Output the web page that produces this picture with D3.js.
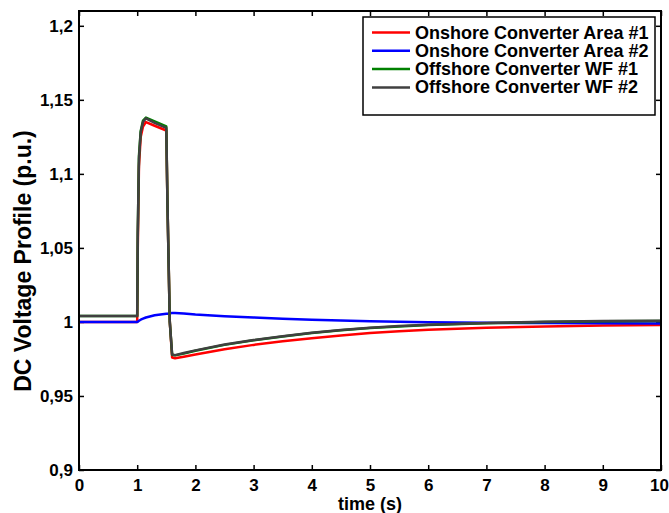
<!DOCTYPE html>
<html>
<head>
<meta charset="utf-8">
<script src="https://cdn.jsdelivr.net/npm/d3@7"></script>
<style>
  body { margin: 0; background: #fff; }
  text { font-family: "Liberation Sans", Arial, sans-serif; font-weight: bold; }
</style>
</head>
<body>
<svg id="chart" width="669" height="513"></svg>
<script>
  // time samples (s)
  var time = [0, 1, 1.01, 1.03, 1.06, 1.1, 1.15, 1.3, 1.5, 1.52, 1.56, 1.6, 1.65, 1.8, 2, 2.5, 3, 3.5, 4, 4.5, 5, 5.5, 6, 7, 8, 9, 10];

  var onshore1 = [1.0, 1.0, 1.05, 1.105, 1.125, 1.132, 1.135, 1.1325, 1.1293, 1.08, 1.0, 0.976, 0.9755, 0.9765, 0.978, 0.9815, 0.9845, 0.987, 0.989, 0.9908, 0.9925, 0.9937, 0.9947, 0.996, 0.997, 0.9976, 0.998];
  var onshore2 = [1.0, 1.0, 1.0002, 1.0008, 1.0015, 1.0022, 1.003, 1.0045, 1.0055, 1.0056, 1.0058, 1.006, 1.006, 1.0057, 1.005, 1.0038, 1.003, 1.0022, 1.0015, 1.001, 1.0005, 1.0001, 0.9998, 0.9994, 0.9992, 0.9991, 0.999];
  var offshore1 = [1.004, 1.004, 1.06, 1.112, 1.129, 1.136, 1.138, 1.1355, 1.132, 1.08, 1.0, 0.9778, 0.9774, 0.9786, 0.9805, 0.9845, 0.9876, 0.9902, 0.9925, 0.9944, 0.9959, 0.997, 0.9979, 0.9991, 0.9999, 1.0004, 1.0006];
  var offshore2 = [1.004, 1.004, 1.06, 1.11, 1.128, 1.135, 1.1375, 1.1345, 1.131, 1.08, 1.0, 0.978, 0.9776, 0.979, 0.9808, 0.9848, 0.9878, 0.9904, 0.9927, 0.9946, 0.9961, 0.9972, 0.9981, 0.9993, 1.0001, 1.0006, 1.0008];

  var seriesNames = ["Onshore Converter Area #1", "Onshore Converter Area #2", "Offshore Converter WF #1", "Offshore Converter WF #2"];
  var seriesColors = ["#ff0000", "#0000ff", "#008000", "#404040"];
  var seriesValues = [onshore1, onshore2, offshore1, offshore2];

  var xTicks = [0, 1, 2, 3, 4, 5, 6, 7, 8, 9, 10];
  var yTicks = [0.9, 0.95, 1, 1.05, 1.1, 1.15, 1.2];
  var yTickLabels = ["0,9", "0,95", "1", "1,05", "1,1", "1,15", "1,2"];

  var plotLeft = 79, plotRight = 661, plotTop = 11, plotBottom = 470;

  var svg = d3.select("#chart");

  var x = d3.scaleLinear().domain([0, 10]).range([plotLeft, plotRight]);
  var y = d3.scaleLinear().domain([0.9, 1.21]).range([plotBottom, plotTop]);

  // axes, ticks pointing inward (matlab box style)
  var xAxis = svg.append("g")
    .attr("transform", "translate(0," + plotBottom + ")")
    .call(d3.axisBottom(x).tickValues(xTicks).tickFormat(d3.format("d")).tickSizeInner(-5).tickSizeOuter(0).tickPadding(9));
  svg.append("g")
    .attr("transform", "translate(0," + plotTop + ")")
    .call(d3.axisTop(x).tickValues(xTicks).tickFormat("").tickSizeInner(-5).tickSizeOuter(0));
  svg.append("g")
    .attr("transform", "translate(" + plotLeft + ",0)")
    .call(d3.axisLeft(y).tickValues(yTicks).tickFormat(function(d, i) { return yTickLabels[i]; }).tickSizeInner(-5).tickSizeOuter(0).tickPadding(6));
  svg.append("g")
    .attr("transform", "translate(" + plotRight + ",0)")
    .call(d3.axisRight(y).tickValues(yTicks).tickFormat("").tickSizeInner(-5).tickSizeOuter(0));

  svg.selectAll(".domain").remove();
  svg.selectAll(".tick line").attr("stroke", "#000").attr("stroke-width", 1.5);
  svg.selectAll(".tick text")
    .attr("fill", "#000")
    .style("font-size", "17px")
    .style("font-family", "'Liberation Sans', Arial, sans-serif")
    .style("font-weight", "bold");
  // keep the last label inside the window
  xAxis.selectAll(".tick:last-of-type text").attr("dx", -2);

  // lines
  var line = d3.line()
    .x(function(d, i) { return x(time[i]); })
    .y(function(d) { return y(d); });

  seriesValues.forEach(function(vals, k) {
    svg.append("path")
      .datum(vals)
      .attr("fill", "none")
      .attr("stroke", seriesColors[k])
      .attr("stroke-width", 2.5)
      .attr("stroke-linejoin", "round")
      .attr("d", line);
  });

  // box
  svg.append("rect")
    .attr("x", plotLeft).attr("y", plotTop)
    .attr("width", plotRight - plotLeft).attr("height", plotBottom - plotTop)
    .attr("fill", "none").attr("stroke", "#000").attr("stroke-width", 2);

  // axis labels
  svg.append("text")
    .attr("x", (plotLeft + plotRight) / 2).attr("y", 510)
    .attr("text-anchor", "middle")
    .style("font-size", "18px")
    .text("time (s)");

  svg.append("text")
    .attr("transform", "translate(31,261) rotate(-90)")
    .attr("text-anchor", "middle")
    .style("font-size", "23px")
    .text("DC Voltage Profile (p.u.)");

  // legend
  var lg = svg.append("g");
  lg.append("rect")
    .attr("x", 363).attr("y", 17).attr("width", 292).attr("height", 98)
    .attr("fill", "#fff").attr("stroke", "#000").attr("stroke-width", 1.5);

  seriesNames.forEach(function(name, k) {
    var ly = 32.5 + k * 18.3;
    lg.append("line")
      .attr("x1", 372).attr("x2", 410)
      .attr("y1", ly).attr("y2", ly)
      .attr("stroke", seriesColors[k]).attr("stroke-width", 2.5);
    lg.append("text")
      .attr("x", 415).attr("y", ly + 6)
      .style("font-size", "18px")
      .text(name);
  });
</script>
</body>
</html>
